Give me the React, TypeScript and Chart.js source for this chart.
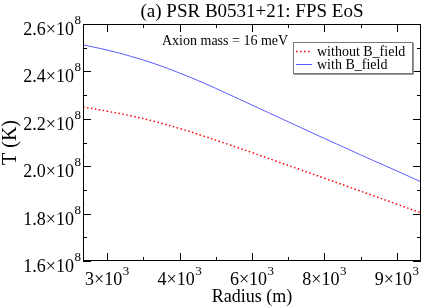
import React, { useEffect, useRef } from "react";
import { Chart, registerables } from "chart.js";

Chart.register(...registerables);

// ---- data ----
const radius = [2500, 3000, 3500, 4000, 4500, 5000, 5500, 6000, 6500, 7000, 7500, 8000, 8500, 9000, 9500];
const tempWithoutB = [2.25e8, 2.232e8, 2.212e8, 2.188e8, 2.159e8, 2.127e8, 2.0925e8, 2.0575e8, 2.0215e8, 1.9855e8, 1.9495e8, 1.913e8, 1.8765e8, 1.84e8, 1.803e8];
const tempWithB = [2.512e8, 2.49e8, 2.463e8, 2.431e8, 2.393e8, 2.351e8, 2.305e8, 2.258e8, 2.211e8, 2.164e8, 2.117e8, 2.071e8, 2.025e8, 1.98e8, 1.934e8];

const xMajorTicks = [3000, 4500, 6000, 7500, 9000];
const xMajorLabels = ["3", "4", "6", "8", "9"];
const xExponent = "3";
const xMinorTicks = [3750, 5250, 6750, 8250];
const yMajorTicks = [1.6e8, 1.8e8, 2.0e8, 2.2e8, 2.4e8, 2.6e8];
const yMajorLabels = ["1.6", "1.8", "2.0", "2.2", "2.4", "2.6"];
const yExponent = "8";
const yMinorTicks = [1.7e8, 1.9e8, 2.1e8, 2.3e8, 2.5e8];

const titleText = "(a) PSR B0531+21: FPS EoS";
const xTitle = "Radius (m)";
const yTitle = "T (K)";
const annotation = "Axion mass = 16 meV";
const seriesNames = ["without B_field", "with B_field"];

const FONT = "'Liberation Serif', 'DejaVu Serif', serif";
const RED = "#ff0000";
const BLUE = "#5a5aff";

function drawSci(ctx: CanvasRenderingContext2D, mant: string, exp: string, x: number, y: number, align: "center" | "right", size: number, supSize: number, raise: number) {
  ctx.font = `${size}px ${FONT}`;
  const main = mant + "\u00d710";
  const wMain = ctx.measureText(main).width;
  ctx.font = `${supSize}px ${FONT}`;
  const wSup = ctx.measureText(exp).width;
  const total = wMain + wSup + 0.5;
  const left = align === "center" ? x - total / 2 : x - total;
  ctx.textAlign = "left";
  ctx.textBaseline = "alphabetic";
  ctx.font = `${size}px ${FONT}`;
  ctx.fillText(main, left, y);
  ctx.font = `${supSize}px ${FONT}`;
  ctx.fillText(exp, left + wMain + 0.5, y - raise);
}

const framePlugin = {
  id: "frame",
  afterDatasetsDraw(chart: any) {
    const ctx: CanvasRenderingContext2D = chart.ctx;
    const { left, right, top, bottom } = chart.chartArea;
    const xs = chart.scales.x;
    const ys = chart.scales.y;
    ctx.save();
    ctx.fillStyle = "#000";
    ctx.strokeStyle = "#000";
    ctx.lineWidth = 1;
    // border
    ctx.strokeRect(left + 0.5, top + 0.5, right - left - 1, bottom - top - 1);
    // ticks
    const tick = (x1: number, y1: number, x2: number, y2: number) => {
      ctx.beginPath();
      ctx.moveTo(x1, y1);
      ctx.lineTo(x2, y2);
      ctx.stroke();
    };
    xMajorTicks.forEach((v) => {
      const px = Math.round(xs.getPixelForValue(v)) + 0.5;
      tick(px, bottom, px, bottom - 8);
      tick(px, top, px, top + 8);
    });
    xMinorTicks.forEach((v) => {
      const px = Math.round(xs.getPixelForValue(v)) + 0.5;
      tick(px, bottom, px, bottom - 4);
      tick(px, top, px, top + 4);
    });
    yMajorTicks.forEach((v) => {
      const py = Math.round(ys.getPixelForValue(v)) + 0.5;
      tick(left, py, left + 8, py);
      tick(right, py, right - 8, py);
    });
    yMinorTicks.forEach((v) => {
      const py = Math.round(ys.getPixelForValue(v)) + 0.5;
      tick(left, py, left + 4, py);
      tick(right, py, right - 4, py);
    });
    // tick labels
    xMajorTicks.forEach((v, i) => {
      drawSci(ctx, xMajorLabels[i], xExponent, xs.getPixelForValue(v), 284.5, "center", 18, 13, 10);
    });
    yMajorTicks.forEach((v, i) => {
      drawSci(ctx, yMajorLabels[i], yExponent, left - 2, ys.getPixelForValue(v) + 11, "right", 18, 13, 11);
    });
    // title
    ctx.textAlign = "center";
    ctx.textBaseline = "alphabetic";
    ctx.font = `19px ${FONT}`;
    ctx.fillText(titleText, (left + right) / 2, 17);
    // x title
    ctx.font = `18px ${FONT}`;
    ctx.fillText(xTitle, (left + right) / 2, 302);
    // y title
    ctx.save();
    ctx.translate(16, (top + bottom) / 2);
    ctx.rotate(-Math.PI / 2);
    ctx.font = `20px ${FONT}`;
    ctx.fillText(yTitle, 0, 0);
    ctx.restore();
    // annotation
    ctx.textAlign = "left";
    ctx.font = `14px ${FONT}`;
    ctx.fillText(annotation, 162, 44.5);
    // legend box
    ctx.fillStyle = "#fff";
    ctx.fillRect(293, 42, 120, 32);
    ctx.strokeStyle = "#777";
    ctx.lineWidth = 1;
    ctx.strokeRect(293.5, 42.5, 119, 31);
    ctx.strokeStyle = "#999";
    ctx.beginPath();
    ctx.moveTo(413.5, 43);
    ctx.lineTo(413.5, 74.5);
    ctx.lineTo(294, 74.5);
    ctx.stroke();
    // legend samples
    ctx.lineWidth = 1.5;
    ctx.strokeStyle = RED;
    ctx.setLineDash([1.5, 2.5]);
    ctx.beginPath();
    ctx.moveTo(296, 51.5);
    ctx.lineTo(312, 51.5);
    ctx.stroke();
    ctx.setLineDash([]);
    ctx.lineWidth = 1;
    ctx.strokeStyle = BLUE;
    ctx.beginPath();
    ctx.moveTo(296, 64.5);
    ctx.lineTo(312, 64.5);
    ctx.stroke();
    ctx.fillStyle = "#000";
    ctx.font = `14px ${FONT}`;
    ctx.fillText(seriesNames[0], 317, 56);
    ctx.fillText(seriesNames[1], 317, 69);
    ctx.restore();
  },
};

export default function App() {
  const ref = useRef<HTMLCanvasElement | null>(null);
  useEffect(() => {
    document.body.style.margin = "0";
    const canvas = ref.current;
    if (!canvas) return;
    const chart = new Chart(canvas, {
      type: "line",
      data: {
        labels: radius,
        datasets: [
          {
            label: seriesNames[0],
            data: radius.map((r, i) => ({ x: r, y: tempWithoutB[i] })),
            borderColor: RED,
            borderWidth: 1.5,
            borderDash: [1.5, 2.5],
            pointRadius: 0,
            tension: 0.4,
            fill: false,
          },
          {
            label: seriesNames[1],
            data: radius.map((r, i) => ({ x: r, y: tempWithB[i] })),
            borderColor: BLUE,
            borderWidth: 1,
            pointRadius: 0,
            tension: 0.4,
            fill: false,
          },
        ],
      },
      options: {
        responsive: false,
        animation: false,
        devicePixelRatio: 1,
        layout: { padding: { left: 83, right: 1, top: 24, bottom: 45 } },
        plugins: { legend: { display: false }, tooltip: { enabled: false }, title: { display: false } },
        scales: {
          x: { type: "linear", min: 2500, max: 9500, display: false },
          y: { type: "linear", min: 1.6e8, max: 2.6e8, display: false },
        },
      },
      plugins: [framePlugin],
    } as any);
    return () => chart.destroy();
  }, []);
  return (
    <div style={{ width: 422, height: 306, background: "#fff" }}>
      <canvas ref={ref} width={422} height={306} style={{ display: "block" }} />
    </div>
  );
}
